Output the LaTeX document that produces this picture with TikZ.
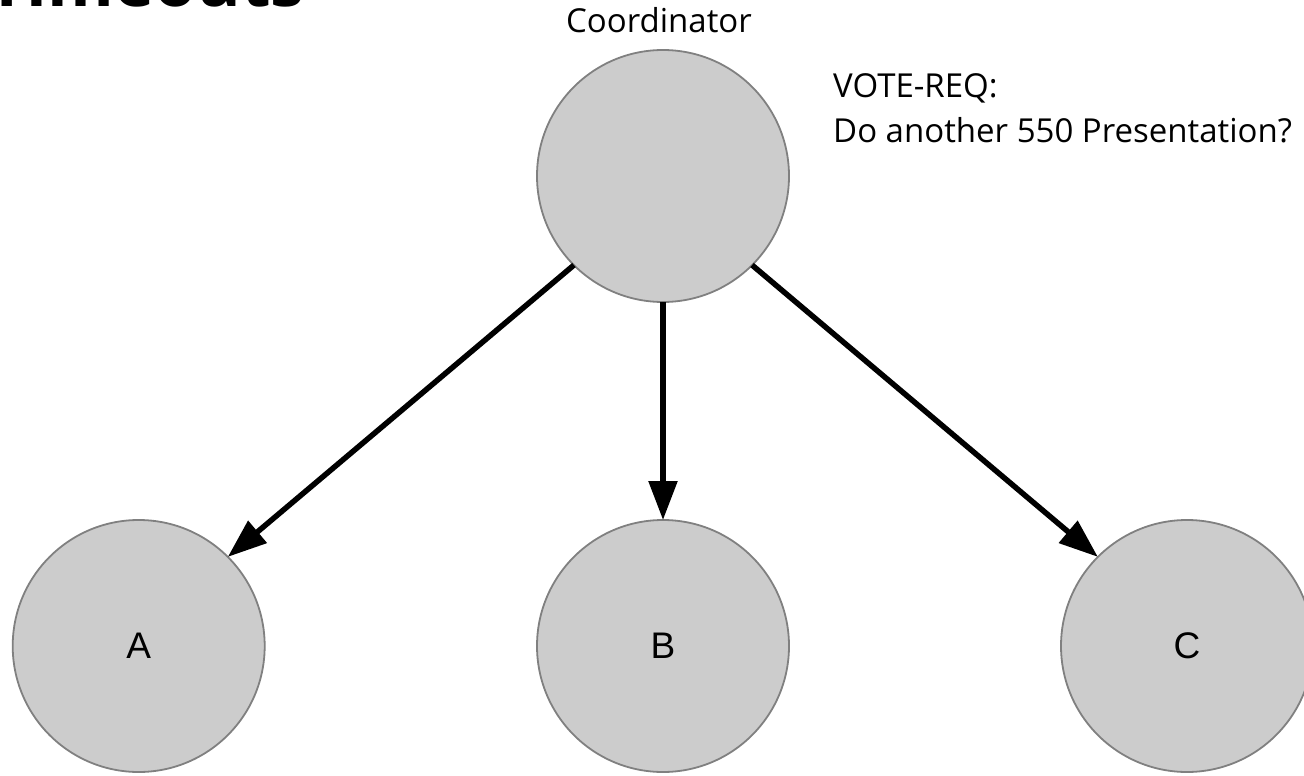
\documentclass[tikz,border=0pt]{standalone}
\usepackage{fontspec}
\setmainfont{Open Sans}
\newfontfamily\arialfont{Liberation Sans}
\usetikzlibrary{arrows.meta}
\definecolor{nodefill}{HTML}{CCCCCC}
\definecolor{nodeline}{HTML}{808080}
\begin{document}
\begin{tikzpicture}[x=1pt,y=-1pt,
  proc/.style={circle,draw=nodeline,fill=nodefill,line width=1.8pt,
    minimum size=252pt,inner sep=0pt,outer sep=0pt,
    font=\arialfont\fontsize{37}{44}\selectfont},
  msg/.style={line width=5.5pt,-{Triangle[length=39pt,width=28pt]}},
  caption/.style={inner sep=0pt,font=\fontsize{33}{44}\selectfont}]
\useasboundingbox (0,0) rectangle (1304,776);
\clip (0,0) rectangle (1304,776);
% title, mostly above the top edge
\node[inner sep=0pt,anchor=base east,font=\bfseries\fontsize{68}{80}\selectfont] (title) at (305,7) {Timeouts};
% processes
\node[proc] (coord) at (663,176) {};
\node[proc] (A) at (138.7,646) {A};
\node[proc] (B) at (663,646) {B};
\node[proc] (C) at (1187,646) {C};
% labels
\node[caption,anchor=base] (coordlbl) at (659,33) {Coordinator};
\node[caption,anchor=base west] (vote1) at (833,98) {VOTE-REQ:};
\node[caption,anchor=base west] (vote2) at (833,142) {Do another 550 Presentation?};
% vote requests
\draw[msg] (coord.south west) -- (A.north east);
\draw[msg] (coord.south) -- (B.north);
\draw[msg] (coord.south east) -- (C.north west);
\end{tikzpicture}
\end{document}
